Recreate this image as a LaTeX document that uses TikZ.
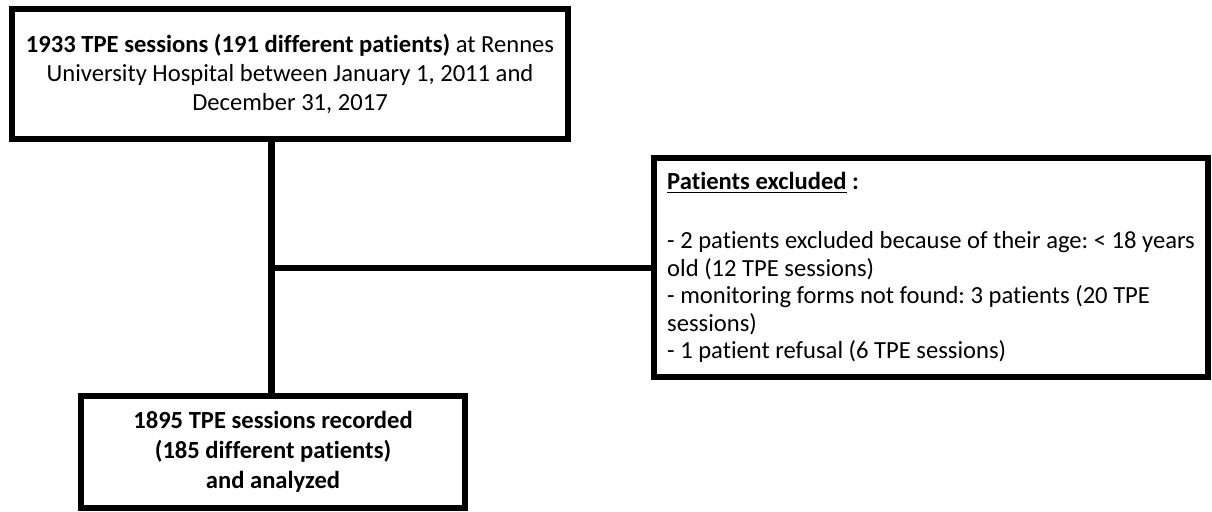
\documentclass[tikz,border=0pt]{standalone}
\usepackage{fontspec}
\setmainfont{Carlito}[Ligatures=CommonOff]
\usepackage{tikz}
\usetikzlibrary{calc}
\tikzset{
    box/.style={draw, line width=3.6pt, inner sep=4pt, font=\frenchspacing\fontsize{14}{16.4}\selectfont},
    link/.style={line width=3.6pt}
}

\begin{document}
\begin{tikzpicture}[x=0.02cm,y=-0.02cm]
   \useasboundingbox (0,0) rectangle (1212,511);
   \node[box, minimum width=11.13cm, minimum height=2.59cm, align=center] (sessions) at (290,74)
      {\textbf{1933 TPE sessions (191 different patients)} at Rennes\\University Hospital between January 1, 2011 and\\December 31, 2017};
   \node[box, minimum width=11.07cm, minimum height=4.38cm, align=left, font=\frenchspacing\fontsize{14}{15.6}\selectfont] (excluded) at (931,267.5)
      {\underline{\textbf{Patients excluded}} \textbf{:}\\[18pt]
       - 2 patients excluded because of their age: < 18 years\\
       old (12 TPE sessions)\\
       - monitoring forms not found: 3 patients (20 TPE\\
       sessions)\\
       - 1 patient refusal (6 TPE sessions)};
   \node[box, minimum width=7.69cm, minimum height=2.24cm, align=center, font=\fontsize{14}{17}\selectfont\bfseries] (recorded) at (273,452)
      {1895 TPE sessions recorded\\(185 different patients)\\and analyzed};
   \coordinate (split) at (271.5,268);
   \draw[link] (sessions.south -| split) -- (recorded.north -| split);
   \draw[link] (split) -- (split -| excluded.west);
\end{tikzpicture}
\end{document}
